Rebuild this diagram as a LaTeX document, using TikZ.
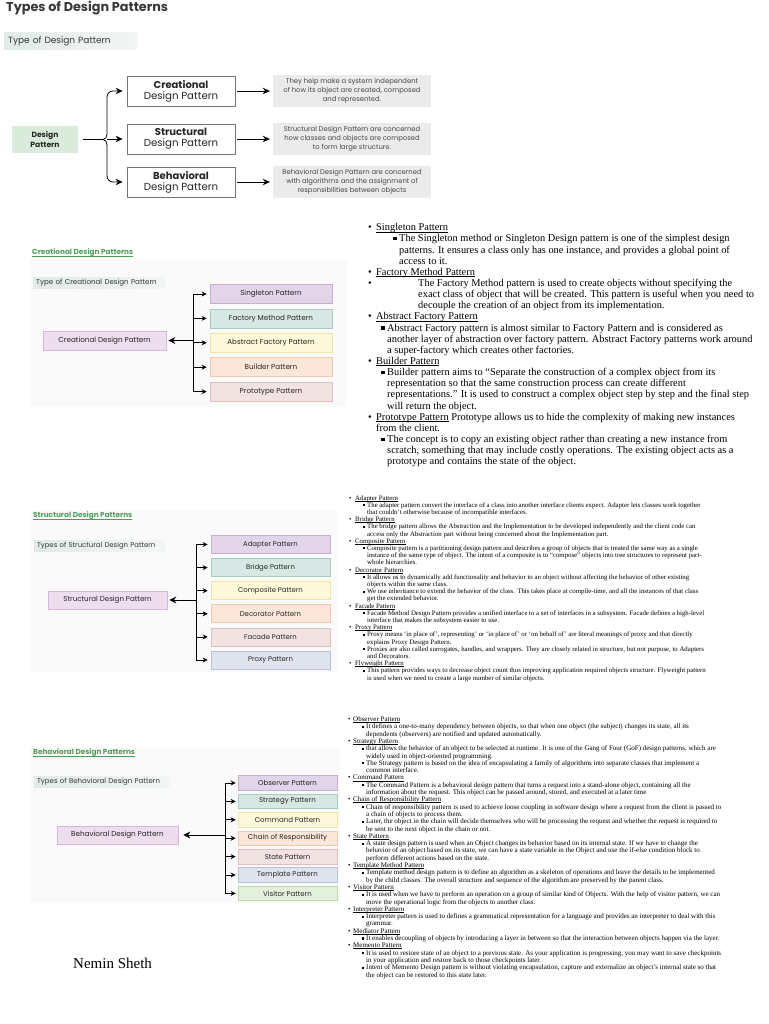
\documentclass[tikz,border=0pt]{standalone}
\usepackage{fontspec}
\setmainfont{Liberation Serif}
\setsansfont{Poppins}
\usetikzlibrary{arrows.meta}
\definecolor{cPurF}{HTML}{E3D5E9}\definecolor{cPurD}{HTML}{C7AED3}
\definecolor{cTeaF}{HTML}{D7E8E4}\definecolor{cTeaD}{HTML}{A7CBC3}
\definecolor{cYelF}{HTML}{FEF8DA}\definecolor{cYelD}{HTML}{F2E4A6}
\definecolor{cPeaF}{HTML}{FBE7D9}\definecolor{cPeaD}{HTML}{F1CBB0}
\definecolor{cPinF}{HTML}{F3E2E2}\definecolor{cPinD}{HTML}{DFC0C0}
\definecolor{cBluF}{HTML}{E0E4EF}\definecolor{cBluD}{HTML}{B9C2DA}
\definecolor{cGreF}{HTML}{E3F0DB}\definecolor{cGreD}{HTML}{BCDCAA}
\definecolor{cMaiF}{HTML}{EEDCEF}\definecolor{cMaiD}{HTML}{D6B6DA}
\definecolor{cLab}{HTML}{E2EBE6}
\definecolor{cDP}{HTML}{DAEBDB}
\definecolor{cDesc}{HTML}{EBEBEB}
\definecolor{cHead}{HTML}{4E9E5B}
\definecolor{cPanel}{HTML}{FAFAFA}
\newsavebox\ulbox
\newcommand\Ul[1]{\sbox\ulbox{#1}\rlap{\rule[-0.15em]{\wd\ulbox}{0.06em}}\usebox\ulbox}
\newcommand\sqb{\rule[0.3ex]{0.3em}{0.3em}}
\newcommand\Ln[5]{\node[txt,#2] (#1) at (#3,{\Yz+\Pz*(#4)-0.7*\Pz}) {\strut#5};}
\newcommand\Bt[1]{\makebox[\bw][l]{•}\Ul{#1}}
\newcommand\Sb{\llap{\sqb\hspace{\sg}}}
\begin{document}
\begin{tikzpicture}[x=1pt,y=-1pt,
  txt/.style={anchor=north west, inner sep=0pt, align=left, text=black},
  pbox/.style={draw=c#1D, fill=c#1F, line width=0.7pt, text=black!85, inner sep=0pt},
  tbox/.style={draw=black!55, line width=0.8pt, minimum width=108pt, minimum height=30pt, align=center, font=\sffamily\fontsize{10.2}{10.8}\selectfont, text=black!85, inner sep=0pt},
  dbox/.style={fill=cDesc, minimum width=158pt, minimum height=32pt, align=center, font=\sffamily\fontsize{6.8}{9}\selectfont, text=black!72, inner sep=0pt},
  lab/.style={anchor=west, left color=cLab, right color=cLab!45, inner xsep=3pt, inner ysep=0pt, align=left, text=black!78},
  head/.style={anchor=west, inner sep=0pt, text=cHead, font=\sffamily\bfseries\fontsize{7.3}{8}\selectfont},
  conn/.style={line width=0.75pt, black},
  arr/.style={line width=0.75pt, black, -{Stealth[length=5pt,width=5pt]}},
  marr/.style={line width=0.9pt, black, -{Stealth[length=7pt,width=7pt]}},
  bigarr/.style={line width=0.8pt, black, -{Stealth[length=7pt,width=6.5pt]}}]
\useasboundingbox (0,0) rectangle (768,1024);
\fill[white] (0,0) rectangle (768,1024);

% ---------------- top overview ----------------
\node[anchor=west, inner sep=0pt, font=\sffamily\bfseries\fontsize{12.8}{14}\selectfont, text=black!78] (title) at (6,8) {Types of Design Patterns};
\node[lab, inner xsep=4pt, minimum height=17pt, text width=125pt, font=\sffamily\fontsize{9}{10}\selectfont] (tlab) at (4,41.5) {Type of Design Pattern};
\node[fill=cDP, minimum width=66pt, minimum height=27pt, align=center, inner sep=0pt, font=\sffamily\bfseries\fontsize{7.6}{9.5}\selectfont, text=black!85] (dp) at (45,139.5) {Design\\Pattern};
\node[tbox] (cre) at (181,91) {{\bfseries\fontsize{10}{11}\selectfont Creational}\\Design Pattern};
\node[tbox] (str) at (181,139) {{\bfseries\fontsize{10}{11}\selectfont Structural}\\Design Pattern};
\node[tbox] (beh) at (181,182) {{\bfseries\fontsize{10}{11}\selectfont Behavioral}\\Design Pattern};
\node[dbox] (d1) at (352,91) {They help make a system independent\\of how its object are created, composed\\and represented.};
\node[dbox] (d2) at (352,139) {Structural Design Pattern are concerned\\how classes and objects are composed\\to form large structure.};
\node[dbox] (d3) at (352,182) {Behavioral Design Pattern are concerned\\with algorithms and the assignment of\\responsibilities between objects};
\coordinate (brL) at (103,139.5);
\coordinate (brM) at (107,139);
\coordinate (brT) at (107,134);
\coordinate (brB) at (107,145);
\draw[conn] ([xshift=5pt]dp.east) -- (brL);
\draw[conn] (brT) to[out=-90,in=0] (brL) to[out=0,in=90] (brB);
\draw[bigarr, rounded corners=6pt, shorten >=4pt] (brT) |- (cre.west);
\draw[bigarr, shorten >=4pt] (brM) -- (str.west);
\draw[bigarr, rounded corners=6pt, shorten >=4pt] (brB) |- (beh.west);
\draw[bigarr, shorten <=2pt, shorten >=3pt] (cre.east) -- (d1.west);
\draw[bigarr, shorten <=2pt, shorten >=3pt] (str.east) -- (d2.west);
\draw[bigarr, shorten <=2pt, shorten >=3pt] (beh.east) -- (d3.west);

% ---------------- creational ----------------
\fill[cPanel] (30,260) rectangle (347,407);
\node[head] (chd) at (32,253) {\Ul{Creational Design Patterns}};
\node[lab, minimum height=11pt, text width=126pt, font=\sffamily\fontsize{7.1}{8}\selectfont] (clab) at (33,282.5) {Type of Creational Design Pattern};
\begin{scope}[every node/.append style={font=\sffamily\fontsize{7.2}{8}\selectfont, minimum height=19pt}]
\node[pbox=Mai, minimum width=123pt] (cmain) at (104.5,340.5) {Creational Design Pattern};
\node[pbox=Pur, minimum width=122pt] (cs1) at (271,294) {Singleton Pattern};
\node[pbox=Tea, minimum width=122pt] (cs2) at (271,318.4) {Factory Method Pattern};
\node[pbox=Yel, minimum width=122pt] (cs3) at (271,342.8) {Abstract Factory Pattern};
\node[pbox=Pea, minimum width=122pt] (cs4) at (271,367.2) {Builder Pattern};
\node[pbox=Pin, minimum width=122pt] (cs5) at (271,391.6) {Prototype Pattern};
\end{scope}
\coordinate (cj) at (193,340.5);
\draw[conn] (cj |- cs1.west) -- (cj |- cs5.west);
\foreach \n in {cs1,cs2,cs3,cs4,cs5} \draw[arr, shorten >=3pt] (cj |- \n.west) -- (\n.west);
\draw[marr, shorten >=2pt] (cj) -- (cmain.east);

% ---------------- structural ----------------
\fill[cPanel] (30,510) rectangle (338,672);
\node[head] (shd) at (33,516) {\Ul{Structural Design Patterns}};
\node[lab, minimum height=11pt, text width=126pt, font=\sffamily\fontsize{6.9}{7.5}\selectfont] (slab) at (34,545.5) {Types of Structural Design Pattern};
\begin{scope}[every node/.append style={font=\sffamily\fontsize{6.9}{7.5}\selectfont, minimum height=18pt, minimum width=119pt}]
\node[pbox=Mai] (smain) at (107.5,600) {\fontsize{7.1}{7.5}\selectfont Structural Design Pattern};
\node[pbox=Pur] (ss1) at (270.5,544.5) {Adapter Pattern};
\node[pbox=Tea] (ss2) at (270.5,567.6) {Bridge Pattern};
\node[pbox=Yel] (ss3) at (270.5,590.7) {Composite Pattern};
\node[pbox=Pea] (ss4) at (270.5,613.8) {Decorator Pattern};
\node[pbox=Pin] (ss5) at (270.5,636.9) {Facade Pattern};
\node[pbox=Blu] (ss6) at (270.5,660) {Proxy Pattern};
\end{scope}
\coordinate (sj) at (196,600);
\draw[conn] (sj |- ss1.west) -- (sj |- ss6.west);
\foreach \n in {ss1,ss2,ss3,ss4,ss5,ss6} \draw[arr, shorten >=3pt] (sj |- \n.west) -- (\n.west);
\draw[marr, shorten >=2pt] (sj) -- (smain.east);

% ---------------- behavioral ----------------
\fill[cPanel] (30,748) rectangle (340,903);
\node[head] (bhd) at (33,753) {\Ul{Behavioral Design Patterns}};
\node[lab, minimum height=11pt, text width=130pt, font=\sffamily\fontsize{7}{7.5}\selectfont] (blab) at (34,781.5) {Types of Behavioral Design Pattern};
\begin{scope}[every node/.append style={font=\sffamily\fontsize{7}{7.5}\selectfont, minimum height=14.5pt, minimum width=99pt}]
\node[pbox=Mai, minimum width=121pt, minimum height=18pt] (bmain) at (117.5,835) {\fontsize{7.2}{7.5}\selectfont Behavioral Design Pattern};
\node[pbox=Pur] (bs1) at (287.5,783) {Observer Pattern};
\node[pbox=Tea] (bs2) at (287.5,801.4) {Strategy Pattern};
\node[pbox=Yel] (bs3) at (287.5,819.8) {Command Pattern};
\node[pbox=Pea] (bs4) at (287.5,838.2) {Chain of Responsibility};
\node[pbox=Pin] (bs5) at (287.5,856.6) {State Pattern};
\node[pbox=Blu] (bs6) at (287.5,875) {Template Pattern};
\node[pbox=Gre] (bs7) at (287.5,893.4) {Visitor Pattern};
\end{scope}
\coordinate (bj) at (225,835);
\draw[conn] (bj |- bs1.west) -- (bj |- bs7.west);
\foreach \n in {bs1,bs2,bs3,bs4,bs5,bs6,bs7} \draw[arr, shorten >=2pt] (bj |- \n.west) -- (\n.west);
\draw[marr, shorten >=5pt] (bj) -- (bmain.east);

\node[anchor=base west, inner sep=0pt, font=\fontsize{15}{17}\selectfont] (author) at (73,968) {Nemin Sheth};

% ---------------- creational text ----------------
\begin{scope}[txt/.append style={font=\fontsize{10.4}{11.15}\selectfont}]
\def\Yz{230.5}\def\Pz{11.15}\def\bw{8pt}\def\sg{2.6pt}
\Ln{c1}{}{368}{0}{\Bt{Singleton Pattern}}
\Ln{c2}{}{399}{1}{\Sb The Singleton method or Singleton Design pattern is one of the simplest design\\patterns. It ensures a class only has one instance, and provides a global point of\\access to it.}
\Ln{c3}{}{368}{4}{\Bt{Factory Method Pattern}}
\Ln{c4}{}{368}{5}{•}
\Ln{c5}{}{418}{5}{The Factory Method pattern is used to create objects without specifying the\\exact class of object that will be created. This pattern is useful when you need to\\decouple the creation of an object from its implementation.}
\Ln{c6}{}{368}{8}{\Bt{Abstract Factory Pattern}}
\Ln{c7}{}{387}{9}{\Sb Abstract Factory pattern is almost similar to Factory Pattern and is considered as\\another layer of abstraction over factory pattern. Abstract Factory patterns work around\\a super-factory which creates other factories.}
\Ln{c8}{}{368}{12}{\Bt{Builder Pattern}}
\Ln{c9}{}{387}{13}{\Sb Builder pattern aims to “Separate the construction of a complex object from its\\representation so that the same construction process can create different\\representations.” It is used to construct a complex object step by step and the final step\\will return the object.}
\Ln{c10}{}{368}{17}{\Bt{Prototype Pattern} Prototype allows us to hide the complexity of making new instances\\\hspace*{8pt}from the client.}
\Ln{c11}{}{387}{19}{\Sb The concept is to copy an existing object rather than creating a new instance from\\scratch, something that may include costly operations. The existing object acts as a\\prototype and contains the state of the object.}
\end{scope}

% ---------------- structural text ----------------
\begin{scope}[txt/.append style={font=\fontsize{6.8}{7.2}\selectfont}]
\def\Yz{499.8}\def\Pz{7.2}\def\bw{6pt}\def\sg{2pt}
\Ln{s1}{}{349}{0}{\Bt{Adapter Pattern}}
\Ln{s2}{}{367}{1}{\Sb The adapter pattern convert the interface of a class into another interface clients expect. Adapter lets classes work together\\that couldn’t otherwise because of incompatible interfaces.}
\Ln{s3}{}{349}{3}{\Bt{Bridge Pattern}}
\Ln{s4}{}{367}{4}{\Sb The bridge pattern allows the Abstraction and the Implementation to be developed independently and the client code can\\access only the Abstraction part without being concerned about the Implementation part.}
\Ln{s5}{}{349}{6}{\Bt{Composite Pattern}}
\Ln{s6}{}{367}{7}{\Sb Composite pattern is a partitioning design pattern and describes a group of objects that is treated the same way as a single\\instance of the same type of object. The intent of a composite is to “compose” objects into tree structures to represent part-\\whole hierarchies.}
\Ln{s7}{}{349}{10}{\Bt{Decorator Pattern}}
\Ln{s8}{}{367}{11}{\Sb It allows us to dynamically add functionality and behavior to an object without affecting the behavior of other existing\\objects within the same class.}
\Ln{s9}{}{367}{13}{\Sb We use inheritance to extend the behavior of the class. This takes place at compile-time, and all the instances of that class\\get the extended behavior.}
\Ln{s10}{}{349}{15}{\Bt{Facade Pattern}}
\Ln{s11}{}{367}{16}{\Sb Facade Method Design Pattern provides a unified interface to a set of interfaces in a subsystem. Facade defines a high-level\\interface that makes the subsystem easier to use.}
\Ln{s12}{}{349}{18}{\Bt{Proxy Pattern}}
\Ln{s13}{}{367}{19}{\Sb Proxy means ‘in place of’, representing’ or ‘in place of’ or ‘on behalf of’ are literal meanings of proxy and that directly\\explains Proxy Design Pattern.}
\Ln{s14}{}{367}{21}{\Sb Proxies are also called surrogates, handles, and wrappers. They are closely related in structure, but not purpose, to Adapters\\and Decorators.}
\Ln{s15}{}{349}{23}{\Bt{Flyweight Pattern}}
\Ln{s16}{}{367}{24}{\Sb This pattern provides ways to decrease object count thus improving application required objects structure. Flyweight pattern\\is used when we need to create a large number of similar objects.}
\end{scope}

% ---------------- behavioral text ----------------
\begin{scope}[txt/.append style={font=\fontsize{7.0}{7.3}\selectfont}]
\def\Yz{721.3}\def\Pz{7.3}\def\bw{5pt}\def\sg{2pt}
\Ln{b1}{}{348}{0}{\Bt{Observer Pattern}}
\Ln{b2}{}{366}{1}{\Sb It defines a one-to-many dependency between objects, so that when one object (the subject) changes its state, all its\\dependents (observers) are notified and updated automatically.}
\Ln{b3}{}{348}{3}{\Bt{Strategy Pattern}}
\Ln{b4}{}{366}{4}{\Sb that allows the behavior of an object to be selected at runtime. It is one of the Gang of Four (GoF) design patterns, which are\\widely used in object-oriented programming.}
\Ln{b5}{}{366}{6}{\Sb The Strategy pattern is based on the idea of encapsulating a family of algorithms into separate classes that implement a\\common interface.}
\Ln{b6}{}{348}{8}{\Bt{Command Pattern}}
\Ln{b7}{}{366}{9}{\Sb The Command Pattern is a behavioral design pattern that turns a request into a stand-alone object, containing all the\\information about the request. This object can be passed around, stored, and executed at a later time}
\Ln{b8}{}{348}{11}{\Bt{Chain of Responsibility Pattern}}
\Ln{b9}{}{366}{12}{\Sb Chain of responsibility pattern is used to achieve loose coupling in software design where a request from the client is passed to\\a chain of objects to process them.}
\Ln{b10}{}{366}{14}{\Sb Later, the object in the chain will decide themselves who will be processing the request and whether the request is required to\\be sent to the next object in the chain or not.}
\Ln{b11}{}{348}{16}{\Bt{State Pattern}}
\Ln{b12}{}{366}{17}{\Sb A state design pattern is used when an Object changes its behavior based on its internal state. If we have to change the\\behavior of an object based on its state, we can have a state variable in the Object and use the if-else condition block to\\perform different actions based on the state.}
\Ln{b13}{}{348}{20}{\Bt{Template Method Pattern}}
\Ln{b14}{}{366}{21}{\Sb Template method design pattern is to define an algorithm as a skeleton of operations and leave the details to be implemented\\by the child classes. The overall structure and sequence of the algorithm are preserved by the parent class.}
\Ln{b15}{}{348}{23}{\Bt{Visitor Pattern}}
\Ln{b16}{}{366}{24}{\Sb It is used when we have to perform an operation on a group of similar kind of Objects. With the help of visitor pattern, we can\\move the operational logic from the objects to another class.}
\Ln{b17}{}{348}{26}{\Bt{Interpreter Pattern}}
\Ln{b18}{}{366}{27}{\Sb Interpreter pattern is used to defines a grammatical representation for a language and provides an interpreter to deal with this\\grammar.}
\Ln{b19}{}{348}{29}{\Bt{Mediator Pattern}}
\Ln{b20}{}{366}{30}{\Sb It enables decoupling of objects by introducing a layer in between so that the interaction between objects happen via the layer.}
\Ln{b21}{}{348}{31}{\Bt{Memento Pattern}}
\Ln{b22}{}{366}{32}{\Sb It is used to restore state of an object to a previous state. As your application is progressing, you may want to save checkpoints\\in your application and restore back to those checkpoints later.}
\Ln{b23}{}{366}{34}{\Sb Intent of Memento Design pattern is without violating encapsulation, capture and externalize an object’s internal state so that\\the object can be restored to this state later.}
\end{scope}
\end{tikzpicture}
\end{document}
